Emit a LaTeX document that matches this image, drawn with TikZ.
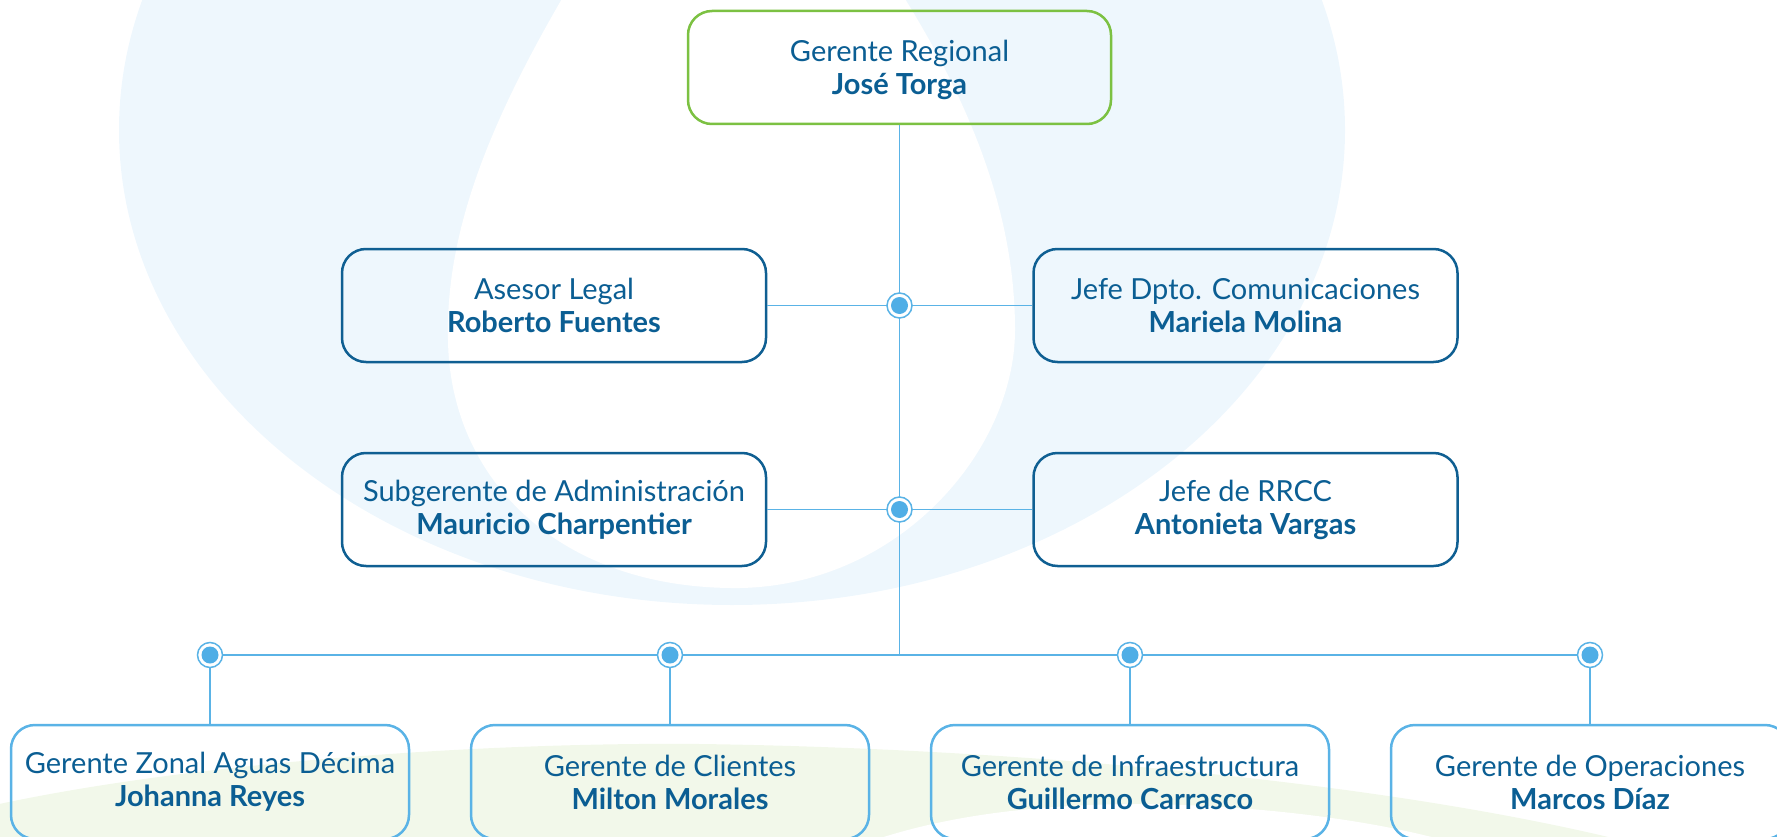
\documentclass[tikz,border=0pt]{standalone}
\usepackage{fontspec}
\setmainfont{Lato}
\definecolor{bgblue}{HTML}{EEF7FD}
\definecolor{bggreen}{HTML}{F2F8EA}
\definecolor{txt}{HTML}{0B5E93}
\definecolor{darkline}{HTML}{0F5F92}
\definecolor{greenline}{HTML}{7CC142}
\definecolor{lightline}{HTML}{5AB3E6}
\definecolor{dotfill}{HTML}{4FAEE6}
\begin{document}
\begin{tikzpicture}[x=1pt,y=-1pt,
  box/.style={draw, rounded corners=24pt, line width=2.5pt, align=center, text=txt,
    font=\fontsize{29}{33}\selectfont, inner sep=0pt},
  topbox/.style={box, draw=greenline, minimum width=423pt, minimum height=113pt},
  midbox/.style={box, draw=darkline, minimum width=424pt, minimum height=113pt},
  lowbox/.style={box, draw=lightline, minimum width=398pt, minimum height=114pt},
  conn/.style={draw=lightline, line width=1.5pt},
  hubout/.style={circle, draw=lightline, fill=white, line width=1.5pt, minimum size=25pt, inner sep=0pt},
  hubin/.style={circle, fill=dotfill, minimum size=17pt, inner sep=0pt}]
\useasboundingbox (0,0) rectangle (1777,837);
% background
\begin{scope}
\clip (0,0) rectangle (1777,837);
\fill[bgblue] (732,130) ellipse [x radius=613, y radius=475];
\fill[white] (585,-40) .. controls (500,100) and (445,220) .. (448,340)
  .. controls (450,480) and (560,590) .. (740,588)
  .. controls (900,585) and (1015,450) .. (1015,330)
  .. controls (1015,200) and (960,80) .. (880,-40) -- cycle;
\fill[bggreen] (-10,806) .. controls (200,760) and (500,742) .. (700,744) .. controls (1000,748) and (1400,780) .. (1660,850) -- (-10,850) -- cycle;
\fill[white] (860,845) .. controls (950,812) and (1050,805) .. (1130,804) .. controls (1250,804) and (1380,820) .. (1460,845) -- cycle;
\end{scope}
% boxes
\node[topbox] (top) at (899.5,67.5) {\rule{0pt}{27pt}Gerente Regional\\\textbf{José Torga}};
\node[midbox] (legal) at (554,305.5) {Asesor Legal\\\textbf{Roberto Fuentes}};
\node[midbox] (comm) at (1245.5,305.5) {Jefe Dpto. Comunicaciones\\\textbf{Mariela Molina}};
\node[midbox] (admin) at (554,509.5) {Subgerente de Administración\\\textbf{Mauricio Charpentier}};
\node[midbox] (rrcc) at (1245.5,509.5) {Jefe de RRCC\\\textbf{Antonieta Vargas}};
\node[lowbox] (zonal) at (210,782) {Gerente Zonal Aguas Décima\\\textbf{Johanna Reyes}};
\node[lowbox] (clientes) at (670,782) {Gerente de Clientes\\\textbf{Milton Morales}};
\node[lowbox] (infra) at (1130,782) {Gerente de Infraestructura\\\textbf{Guillermo Carrasco}};
\node[lowbox] (oper) at (1590,782) {Gerente de Operaciones\\\textbf{Marcos Díaz}};
% junctions
\coordinate (h1) at (899.5,305.5);
\coordinate (h2) at (899.5,509.5);
\coordinate (bus) at (899.5,655);
\coordinate (b1) at (210,655);
\coordinate (b2) at (670,655);
\coordinate (b3) at (1130,655);
\coordinate (b4) at (1590,655);
% connectors
\draw[conn] (top.south) -- (bus);
\draw[conn] (legal.east) -- (comm.west);
\draw[conn] (admin.east) -- (rrcc.west);
\draw[conn] (b1) -- (b4);
\draw[conn] (b1) -- (zonal.north);
\draw[conn] (b2) -- (clientes.north);
\draw[conn] (b3) -- (infra.north);
\draw[conn] (b4) -- (oper.north);
% hub dots
\foreach \h in {h1,h2,b1,b2,b3,b4}{
  \node[hubout] (\h o) at (\h) {};
  \node[hubin] (\h i) at (\h) {};
}
\end{tikzpicture}
\end{document}
